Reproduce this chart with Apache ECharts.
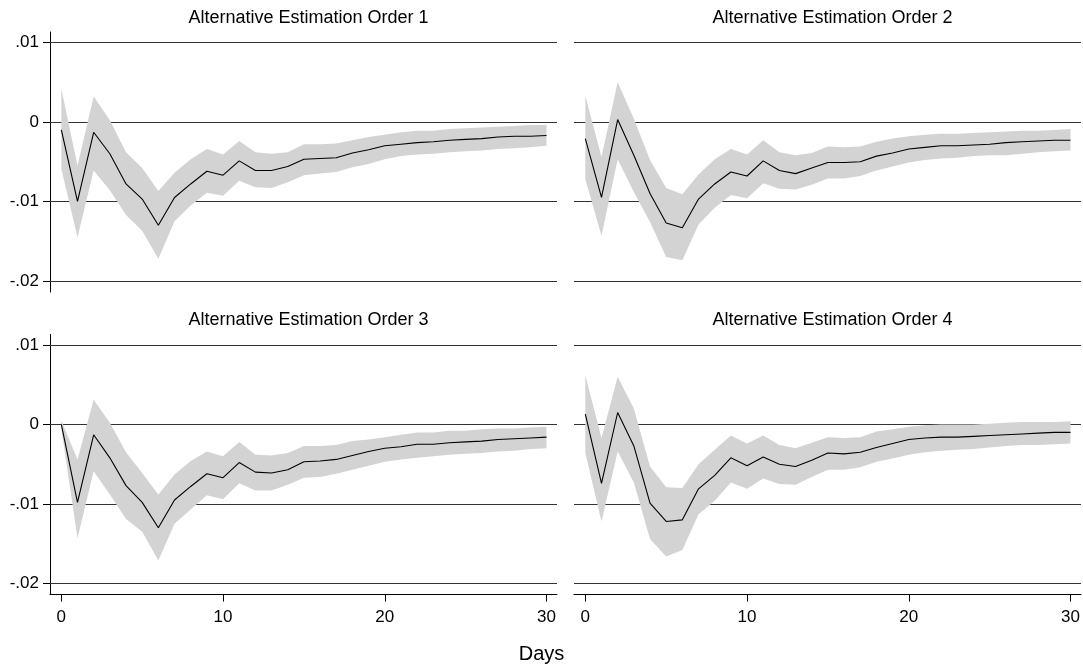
<!DOCTYPE html>
<html>
<head>
<meta charset="utf-8">
<script src="https://cdn.jsdelivr.net/npm/echarts@6/dist/echarts.min.js"></script>
<style>
  html, body { margin: 0; padding: 0; background: #fff; }
  #chart { width: 1083px; height: 666px; }
</style>
</head>
<body>
<div id="chart"></div>
<script>
const days = [0,1,2,3,4,5,6,7,8,9,10,11,12,13,14,15,16,17,18,19,20,21,22,23,24,25,26,27,28,29,30];

const panelTitles = ["Alternative Estimation Order 1","Alternative Estimation Order 2","Alternative Estimation Order 3","Alternative Estimation Order 4"];
const xTickValues = [0, 10, 20, 30];
const yTickValues = [-0.02, -0.01, 0, 0.01];
const yTickLabels = ["-.02", "-.01", "0", ".01"];
const xTitle = "Days";

const mid1 = [-0.0010,-0.0100,-0.0013,-0.0040,-0.0078,-0.0097,-0.0130,-0.0095,-0.0078,-0.0062,-0.0067,-0.0049,-0.0061,-0.0061,-0.0056,-0.0047,-0.0046,-0.0045,-0.0039,-0.0035,-0.0030,-0.0028,-0.0026,-0.0025,-0.0023,-0.0022,-0.0021,-0.0019,-0.0018,-0.0018,-0.0017];
const hi1 = [0.0042,-0.0055,0.0032,0.0002,-0.0038,-0.0058,-0.0087,-0.0064,-0.0047,-0.0034,-0.0041,-0.0024,-0.0038,-0.0040,-0.0038,-0.0028,-0.0028,-0.0027,-0.0023,-0.0019,-0.0016,-0.0013,-0.0011,-0.0011,-0.0009,-0.0008,-0.0007,-0.0006,-0.0005,-0.0004,-0.0004];
const lo1 = [-0.0059,-0.0145,-0.0061,-0.0086,-0.0117,-0.0137,-0.0172,-0.0125,-0.0105,-0.0089,-0.0093,-0.0074,-0.0082,-0.0083,-0.0076,-0.0067,-0.0065,-0.0063,-0.0057,-0.0053,-0.0047,-0.0043,-0.0041,-0.0040,-0.0038,-0.0037,-0.0036,-0.0034,-0.0033,-0.0032,-0.0030];

const mid2 = [-0.0021,-0.0095,0.0003,-0.0042,-0.0090,-0.0127,-0.0133,-0.0097,-0.0078,-0.0063,-0.0068,-0.0049,-0.0061,-0.0065,-0.0058,-0.0051,-0.0051,-0.0050,-0.0043,-0.0039,-0.0034,-0.0032,-0.0030,-0.0030,-0.0029,-0.0028,-0.0026,-0.0025,-0.0024,-0.0023,-0.0023];
const hi2 = [0.0033,-0.0044,0.0050,0.0004,-0.0048,-0.0083,-0.0091,-0.0066,-0.0047,-0.0034,-0.0041,-0.0023,-0.0038,-0.0042,-0.0039,-0.0031,-0.0032,-0.0031,-0.0025,-0.0021,-0.0018,-0.0016,-0.0015,-0.0015,-0.0014,-0.0013,-0.0012,-0.0011,-0.0011,-0.0010,-0.0009];
const lo2 = [-0.0072,-0.0143,-0.0047,-0.0088,-0.0126,-0.0170,-0.0174,-0.0129,-0.0108,-0.0092,-0.0096,-0.0077,-0.0084,-0.0085,-0.0079,-0.0071,-0.0071,-0.0068,-0.0061,-0.0056,-0.0051,-0.0048,-0.0046,-0.0045,-0.0043,-0.0042,-0.0042,-0.0040,-0.0038,-0.0037,-0.0036];

const mid3 = [0.0000,-0.0098,-0.0013,-0.0042,-0.0077,-0.0098,-0.0130,-0.0095,-0.0078,-0.0062,-0.0067,-0.0048,-0.0060,-0.0061,-0.0057,-0.0047,-0.0046,-0.0044,-0.0039,-0.0034,-0.0030,-0.0028,-0.0025,-0.0025,-0.0023,-0.0022,-0.0021,-0.0019,-0.0018,-0.0017,-0.0016];
const hi3 = [0.0005,-0.0044,0.0031,0.0002,-0.0035,-0.0061,-0.0088,-0.0063,-0.0046,-0.0034,-0.0040,-0.0022,-0.0038,-0.0039,-0.0036,-0.0027,-0.0027,-0.0026,-0.0021,-0.0019,-0.0016,-0.0013,-0.0010,-0.0010,-0.0008,-0.0008,-0.0006,-0.0005,-0.0005,-0.0004,-0.0003];
const lo3 = [-0.0005,-0.0143,-0.0059,-0.0088,-0.0119,-0.0135,-0.0171,-0.0125,-0.0107,-0.0089,-0.0094,-0.0074,-0.0083,-0.0083,-0.0076,-0.0067,-0.0066,-0.0062,-0.0057,-0.0052,-0.0047,-0.0044,-0.0042,-0.0040,-0.0038,-0.0037,-0.0036,-0.0034,-0.0033,-0.0031,-0.0030];

const mid4 = [0.0013,-0.0074,0.0015,-0.0027,-0.0099,-0.0122,-0.0120,-0.0081,-0.0064,-0.0042,-0.0052,-0.0041,-0.0050,-0.0053,-0.0045,-0.0036,-0.0037,-0.0035,-0.0029,-0.0024,-0.0019,-0.0017,-0.0016,-0.0016,-0.0015,-0.0014,-0.0013,-0.0012,-0.0011,-0.0010,-0.0010];
const hi4 = [0.0062,-0.0017,0.0060,0.0020,-0.0053,-0.0079,-0.0080,-0.0050,-0.0032,-0.0014,-0.0024,-0.0014,-0.0026,-0.0030,-0.0023,-0.0016,-0.0017,-0.0016,-0.0009,-0.0006,-0.0003,-0.0001,0.0000,0.0000,0.0000,0.0001,0.0002,0.0003,0.0003,0.0003,0.0004];
const lo4 = [-0.0036,-0.0122,-0.0034,-0.0073,-0.0144,-0.0166,-0.0158,-0.0113,-0.0096,-0.0073,-0.0081,-0.0068,-0.0075,-0.0076,-0.0066,-0.0057,-0.0057,-0.0054,-0.0047,-0.0043,-0.0038,-0.0035,-0.0033,-0.0032,-0.0031,-0.0029,-0.0027,-0.0026,-0.0026,-0.0025,-0.0024];

const mids = [mid1, mid2, mid3, mid4];
const his = [hi1, hi2, hi3, hi4];
const los = [lo1, lo2, lo3, lo4];

const FONT = "'Liberation Sans', Arial, sans-serif";
const GRID_COLOR = '#333';
const BAND_COLOR = '#d3d3d3';

const gridBoxes = [
  { left: 50, top: 32, width: 507, height: 260 },
  { left: 574, top: 32, width: 507, height: 260 },
  { left: 50, top: 334.5, width: 507, height: 260 },
  { left: 574, top: 334.5, width: 507, height: 260 }
];

const X_MIN = -0.7, X_MAX = 30.65;
const Y_MIN = -0.02139, Y_MAX = 0.01131;

const grids = [], xAxes = [], yAxes = [], series = [], titles = [];

// Band polygon: upper edge left->right, then lower edge right->left,
// every vertex converted with the axis scales via api.coord.
function makeBandRenderer(lo, hi) {
  return function (params, api) {
    if (params.dataIndex !== 0) return null;
    const pts = [];
    for (let i = 0; i < days.length; i++) pts.push(api.coord([days[i], hi[i]]));
    for (let i = days.length - 1; i >= 0; i--) pts.push(api.coord([days[i], lo[i]]));
    return {
      type: 'polygon',
      shape: { points: pts },
      style: { fill: BAND_COLOR, stroke: null }
    };
  };
}

for (let k = 0; k < 4; k++) {
  const isLeft = (k % 2 === 0);
  const isBottom = (k >= 2);
  grids.push(Object.assign({ containLabel: false }, gridBoxes[k]));

  xAxes.push({
    type: 'value', gridIndex: k, min: X_MIN, max: X_MAX,
    show: isBottom,
    axisLine: { show: true, onZero: false, lineStyle: { color: '#000', width: 1 } },
    axisTick: { show: true, length: 7, customValues: xTickValues, lineStyle: { color: '#000' } },
    axisLabel: { show: true, customValues: xTickValues, margin: 14, color: '#000', fontSize: 17, fontFamily: FONT,
                 formatter: v => String(v) },
    splitLine: { show: false }
  });

  yAxes.push({
    type: 'value', gridIndex: k, min: Y_MIN, max: Y_MAX,
    show: isLeft,
    axisLine: { show: true, onZero: false, lineStyle: { color: '#000', width: 1 } },
    axisTick: { show: true, length: 7, customValues: yTickValues, lineStyle: { color: '#000' } },
    axisLabel: { show: true, customValues: yTickValues, margin: 11, color: '#000', fontSize: 17, fontFamily: FONT,
                 formatter: v => {
                   const i = yTickValues.findIndex(t => Math.abs(t - v) < 1e-9);
                   return i >= 0 ? yTickLabels[i] : '';
                 } },
    splitLine: { show: false }
  });

  // gridlines (under the band)
  series.push({
    type: 'line', xAxisIndex: k, yAxisIndex: k, data: [], z: 1, silent: true,
    markLine: {
      silent: true, symbol: 'none', animation: false, z: 1,
      label: { show: false },
      lineStyle: { color: GRID_COLOR, type: 'solid', width: 1 },
      emphasis: { disabled: true },
      data: yTickValues.map(v => ({ yAxis: v }))
    }
  });

  // confidence band
  series.push({
    type: 'custom', xAxisIndex: k, yAxisIndex: k, z: 2, silent: true, clip: true,
    data: days.map((d, i) => [d, los[k][i], his[k][i]]),
    encode: { x: 0, y: [1, 2] },
    renderItem: makeBandRenderer(los[k], his[k])
  });

  // point estimate
  series.push({
    type: 'line', xAxisIndex: k, yAxisIndex: k,
    data: days.map((d, i) => [d, mids[k][i]]),
    symbol: 'none', lineStyle: { color: '#000', width: 1.1 }, z: 3, silent: true
  });

  titles.push({
    text: panelTitles[k],
    left: gridBoxes[k].left + gridBoxes[k].width / 2,
    top: gridBoxes[k].top - 28,
    textAlign: 'center',
    textStyle: { fontSize: 18, fontWeight: 'normal', color: '#000', fontFamily: FONT }
  });
}

titles.push({
  text: xTitle, left: 'center', top: 639,
  textStyle: { fontSize: 20, fontWeight: 'normal', color: '#000', fontFamily: FONT }
});

const chart = echarts.init(document.getElementById('chart'), null, { renderer: 'canvas' });
chart.setOption({
  animation: false,
  backgroundColor: '#fff',
  title: titles,
  grid: grids,
  xAxis: xAxes,
  yAxis: yAxes,
  series: series
});
</script>
</body>
</html>
